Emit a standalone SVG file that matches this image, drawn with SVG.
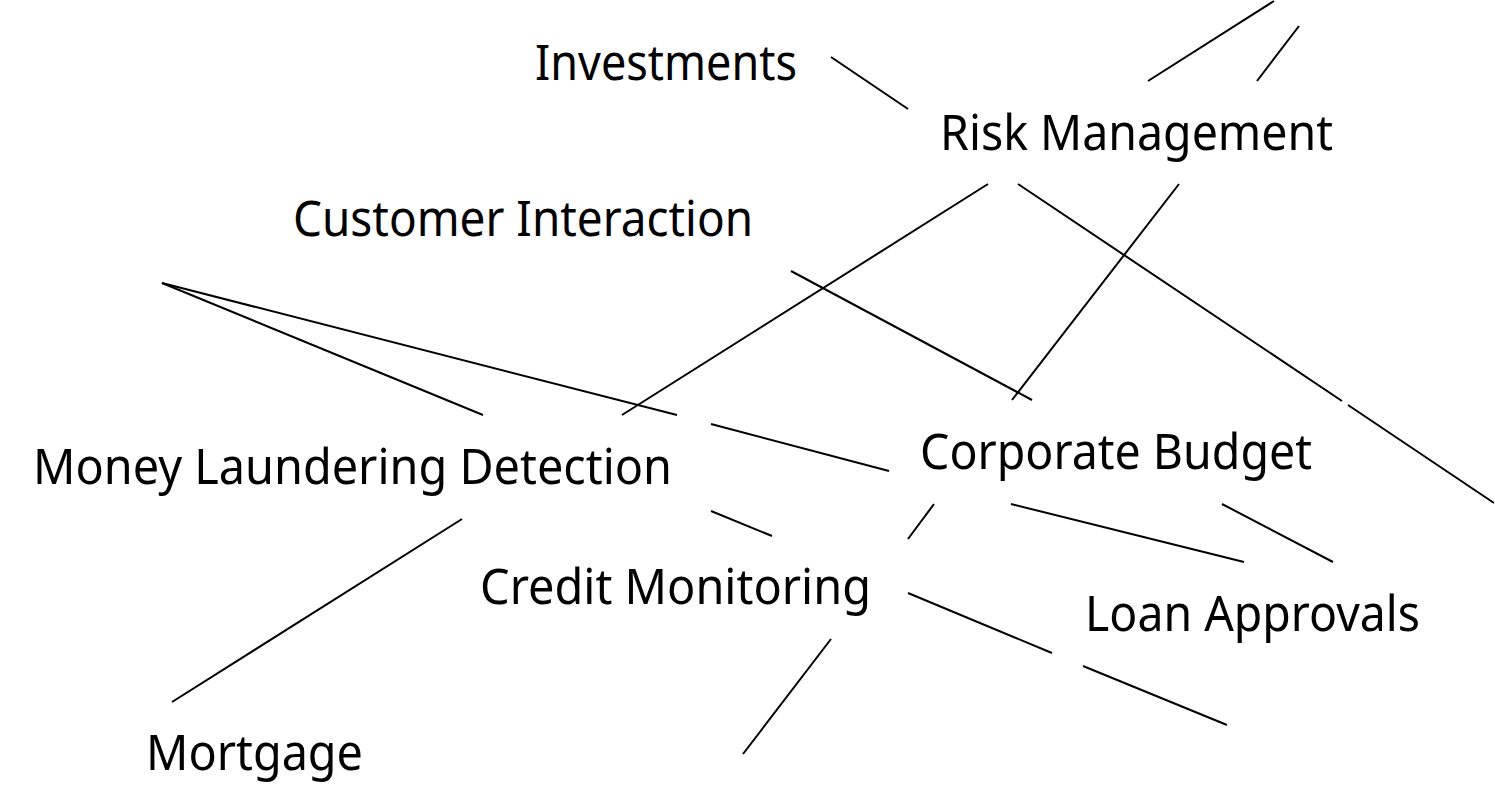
<svg xmlns="http://www.w3.org/2000/svg" width="1495" height="811" viewBox="0 0 1495 811">
  <style>
    .edge { stroke: #000; stroke-width: 2; fill: none; stroke-linecap: butt; }
    .label { font-family: "Noto Sans", "Open Sans", "DejaVu Sans", sans-serif; font-size: 50px; fill: #000; }
  </style>
  <rect width="1495" height="811" fill="#fff"/>

  <!-- connectors, clipped at the label boxes they pass -->
  <g id="connectors">
    <path class="edge" d="M831,57 L908,109"/>
    <path class="edge" d="M1148,81 L1274,1"/>
    <path class="edge" d="M1257,81 L1299,26"/>
    <path class="edge" d="M988,184 L622,415"/>
    <path class="edge" d="M1018,184 L1342,401 M1348,405 L1494,503"/>
    <path class="edge" d="M1179,184 L1012,400"/>
    <path class="edge" d="M791,271 L1032,400"/>
    <path class="edge" d="M162,283 L483,415"/>
    <path class="edge" d="M162,283 L677,415 M711,424 L889,471"/>
    <path class="edge" d="M711,511 L772,536"/>
    <path class="edge" d="M462,519 L172,702"/>
    <path class="edge" d="M934,504 L908,539"/>
    <path class="edge" d="M1011,504 L1244,562"/>
    <path class="edge" d="M1222,504 L1333,562"/>
    <path class="edge" d="M908,593 L1052,653 M1083,666 L1227,725"/>
    <path class="edge" d="M831,639 L743,754"/>
  </g>

  <g id="node-investments">
    <text class="label" x="535" y="80" textLength="262" lengthAdjust="spacingAndGlyphs">Investments</text>
  </g>
  <g id="node-risk-management">
    <text class="label" x="940" y="150" textLength="393" lengthAdjust="spacingAndGlyphs">Risk Management</text>
  </g>
  <g id="node-customer-interaction">
    <text class="label" x="293" y="236" textLength="460" lengthAdjust="spacingAndGlyphs">Customer Interaction</text>
  </g>
  <g id="node-money-laundering-detection">
    <text class="label" x="33" y="484" textLength="639" lengthAdjust="spacingAndGlyphs">Money Laundering Detection</text>
  </g>
  <g id="node-corporate-budget">
    <text class="label" x="920" y="469" textLength="392" lengthAdjust="spacingAndGlyphs">Corporate Budget</text>
  </g>
  <g id="node-credit-monitoring">
    <text class="label" x="480" y="604" textLength="391" lengthAdjust="spacingAndGlyphs">Credit Monitoring</text>
  </g>
  <g id="node-loan-approvals">
    <text class="label" x="1085" y="631" textLength="335" lengthAdjust="spacingAndGlyphs">Loan Approvals</text>
  </g>
  <g id="node-mortgage">
    <text class="label" x="146" y="770" textLength="217" lengthAdjust="spacingAndGlyphs">Mortgage</text>
  </g>
</svg>
